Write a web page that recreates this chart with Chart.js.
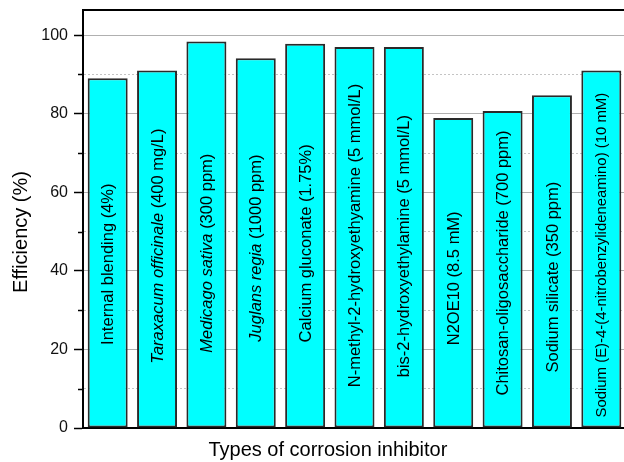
<!DOCTYPE html>
<html>
<head>
<meta charset="utf-8">
<script src="https://cdn.jsdelivr.net/npm/chart.js@4/dist/chart.umd.min.js"></script>
<style>
    html, body { margin: 0; padding: 0; background: #fff; overflow: hidden; }
    #wrap { width: 640px; height: 462px; }
</style>
</head>
<body>
<div id="wrap"><canvas id="chartEfficiency" width="640" height="462"></canvas></div>
<script>
const categories = [
    'Internal blending (4%)',
    'Taraxacum officinale (400 mg/L)',
    'Medicago sativa (300 ppm)',
    'Juglans regia (1000 ppm)',
    'Calcium gluconate (1.75%)',
    'N-methyl-2-hydroxyethyamine (5 mmol/L)',
    'bis-2-hydroxyethylamine (5 mmol/L)',
    'N2OE10 (8.5 mM)',
    'Chitosan-oligosaccharide (700 ppm)',
    'Sodium silicate (350 ppm)',
    'Sodium (E)-4-(4-nitrobenzylideneamino) (10 mM)'
];
// part of each name set in italics (plant species)
const italicNames = ['', 'Taraxacum officinale', 'Medicago sativa', 'Juglans regia', '', '', '', '', '', '', ''];
const efficiency = [89.0, 91.0, 98.4, 94.1, 97.8, 97.0, 97.0, 78.9, 80.7, 84.7, 91.0];
// where the middle of each rotated label sits, in % units
const labelMid = [41.7, 46.3, 44.5, 45.8, 47.0, 49.0, 46.3, 38.1, 42.0, 38.4, 44.0];
const yTicks = [0, 20, 40, 60, 80, 100];

const FONT = 'Arial, "Liberation Sans", sans-serif';

initChart();

function initChart() {
    const extras = {
        id: 'extras',
        beforeDatasetsDraw(chart) {
            const ctx = chart.ctx;
            const area = chart.chartArea;
            const y = chart.scales.y;
            // minor ticks
            ctx.save();
            ctx.strokeStyle = '#000';
            ctx.lineWidth = 1.5;
            for (let v = 10; v < 106; v += 20) {
                const py = Math.round(y.getPixelForValue(v)) + 0.5;
                ctx.beginPath();
                ctx.moveTo(area.left - 5, py);
                ctx.lineTo(area.left, py);
                ctx.stroke();
            }
            ctx.restore();
        },
        afterDatasetsDraw(chart) {
            const ctx = chart.ctx;
            const meta = chart.getDatasetMeta(0);
            const y = chart.scales.y;
            ctx.save();
            ctx.fillStyle = '#000';
            ctx.textBaseline = 'middle';
            ctx.textAlign = 'left';
            meta.data.forEach(function (bar, i) {
                const full = categories[i];
                const it = italicNames[i];
                const rest = it ? full.slice(it.length) : full;
                let size = 16.5;
                ctx.font = size + 'px ' + FONT;
                // long names shrunk to fit
                const w0 = ctx.measureText(full).width;
                if (w0 > 325) size = size * 325 / w0;
                const fItalic = 'italic ' + size + 'px ' + FONT;
                const fNormal = size + 'px ' + FONT;
                ctx.font = fItalic;
                const wi = it ? ctx.measureText(it).width : 0;
                ctx.font = fNormal;
                const wr = ctx.measureText(rest).width;
                const total = wi + wr;
                ctx.save();
                ctx.translate(bar.x + 1, y.getPixelForValue(labelMid[i]));
                ctx.rotate(-Math.PI / 2);
                let x0 = -total / 2;
                if (it) {
                    ctx.font = fItalic;
                    ctx.fillText(it, x0, 0);
                    x0 += wi;
                }
                ctx.font = fNormal;
                ctx.fillText(rest, x0, 0);
                ctx.restore();
            });
            ctx.restore();
        },
        afterDraw(chart) {
            const ctx = chart.ctx;
            const area = chart.chartArea;
            ctx.save();
            // top frame line
            ctx.strokeStyle = '#000';
            ctx.lineWidth = 2;
            ctx.beginPath();
            ctx.moveTo(area.left - 1, area.top);
            ctx.lineTo(area.right, area.top);
            ctx.stroke();
            // axis titles
            ctx.fillStyle = '#000';
            ctx.font = '20px ' + FONT;
            ctx.textAlign = 'center';
            ctx.textBaseline = 'alphabetic';
            ctx.fillText('Types of corrosion inhibitor', area.left + (area.right - area.left) * 0.451, 456);
            ctx.translate(26.5, 232);
            ctx.rotate(-Math.PI / 2);
            ctx.fillText('Efficiency (%)', 0, 0);
            ctx.restore();
        }
    };

    new Chart(document.getElementById('chartEfficiency'), {
        type: 'bar',
        data: {
            labels: categories,
            datasets: [{
                label: 'Efficiency',
                data: efficiency,
                backgroundColor: '#00FFFF',
                borderColor: '#2a2a2a',
                borderWidth: 2,
                borderSkipped: false,
                categoryPercentage: 1,
                barPercentage: 0.81
            }]
        },
        options: {
            responsive: false,
            animation: false,
            devicePixelRatio: 1,
            layout: { padding: { top: 10, left: 0, right: 14, bottom: 0 } },
            plugins: {
                legend: { display: false },
                tooltip: { enabled: false }
            },
            scales: {
                x: {
                    type: 'category',
                    grid: { display: false },
                    ticks: { display: false },
                    border: { display: true, color: '#000', width: 2 },
                    afterFit: function (s) { s.height = 34; }
                },
                y: {
                    min: 0,
                    max: 106.4,
                    ticks: {
                        stepSize: 10,
                        includeBounds: false,
                        padding: 6,
                        color: '#111',
                        font: { family: FONT, size: 16 },
                        callback: function (v) {
                            return yTicks.indexOf(v) >= 0 ? String(v) : '';
                        }
                    },
                    grid: {
                        drawTicks: true,
                        tickLength: 9,
                        tickWidth: 1.5,
                        tickColor: function (c) {
                            return c.tick && c.tick.value % 20 === 0 ? '#000' : 'rgba(0,0,0,0)';
                        },
                        color: function (c) {
                            if (!c.tick) return '#b0b0b0';
                            return c.tick.value % 20 === 0 ? '#b0b0b0' : '#c4c4c4';
                        },
                        lineWidth: 1
                    },
                    border: {
                        display: true,
                        color: '#000',
                        width: 2,
                        dash: function (c) {
                            return c.tick && c.tick.value % 20 !== 0 ? [2, 2] : [];
                        }
                    },
                    afterFit: function (s) {
                        s.width = 83;
                        s.paddingTop = 0;
                        s.paddingBottom = 0;
                    }
                }
            }
        },
        plugins: [extras]
    });
}
</script>
</body>
</html>
